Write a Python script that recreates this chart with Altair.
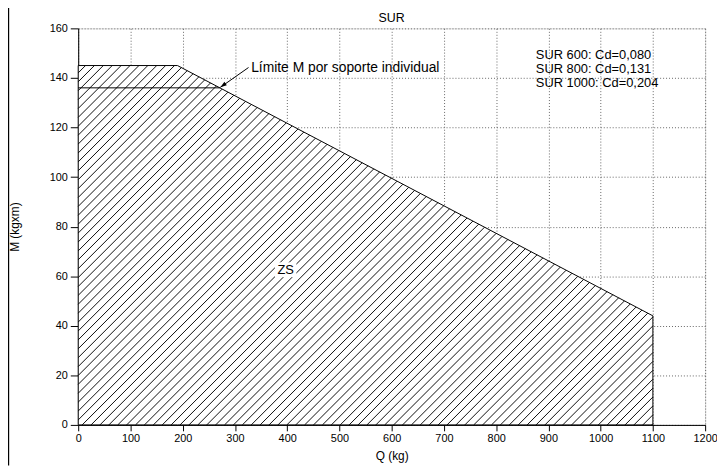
import altair as alt
import pandas as pd

# ---- data ----
outline_q = [0, 190, 1100]          # Q (kg) of the limit curve
outline_m = [145, 145, 44]          # M (kgxm) at those Q
individual_limit_m = 136            # "Límite M por soporte individual"
cd_labels = ["SUR 600: Cd=0,080", "SUR 800: Cd=0,131", "SUR 1000: Cd=0,204"]
cd_label_q = [876, 876, 876]
cd_label_m = [149.2, 143.6, 138.0]
arrow_q = [326, 272]
arrow_m = [144.2, 136.2]
note_text = ["Límite M por soporte individual"]
note_q = [331]
note_m = [144]
zone_text = ["ZS"]
zone_q = [397]
zone_m = [62.6]
chart_title = "SUR"

x_ticks = list(range(0, 1201, 50))
y_ticks = list(range(0, 161, 10))

W, H = 634, 401
X_MAX, Y_MAX = 1200, 160
kx, ky = W / X_MAX, H / Y_MAX
FONT = "Liberation Sans"

# limit polygon (closed at M=0)
poly = [(0, 0)] + list(zip(outline_q, outline_m)) + [(outline_q[-1], 0)]

# intersection of the individual limit with the sloped segment
q1, m1, q2, m2 = outline_q[1], outline_m[1], outline_q[2], outline_m[2]
lim_q_end = q1 + (individual_limit_m - m1) * (q2 - q1) / (m2 - m1)

# hatch segments: 45 deg in screen space, clipped to the polygon
ppoly = [(q * kx, m * ky) for q, m in poly]
hatch = []
step = 9.0
b = -H
while b < W + H:
    xs = []
    n = len(ppoly)
    for i in range(n):
        x1, y1 = ppoly[i]
        x2, y2 = ppoly[(i + 1) % n]
        den = (y2 - y1) - (x2 - x1)
        if abs(den) < 1e-12:
            continue
        t = -(y1 - x1 + b) / den
        if -1e-9 <= t <= 1 + 1e-9:
            xs.append(x1 + t * (x2 - x1))
    if len(xs) >= 2:
        xa, xb = min(xs), max(xs)
        if xb - xa > 0.5:
            hatch.append({"x": xa / kx, "y": (xa - b) / ky,
                          "x2": xb / kx, "y2": (xb - b) / ky})
    b += step
hatch_df = pd.DataFrame(hatch)

area_df = pd.DataFrame({"q": outline_q, "m": outline_m})

xscale = alt.Scale(domain=[0, X_MAX], nice=False, zero=False)
yscale = alt.Scale(domain=[0, Y_MAX], nice=False, zero=False)

x_axis = alt.Axis(
    values=x_ticks, title="Q (kg)",
    labelExpr="datum.value % 100 === 0 ? datum.label : ''",
    tickSize=alt.condition("datum.value % 100 === 0", alt.value(6), alt.value(3)),
    gridOpacity=alt.condition("datum.value % 100 === 0", alt.value(1), alt.value(0)),
    grid=True, gridColor="#666", gridDash=[1, 2], gridWidth=1,
    domainColor="black", tickColor="black", labelColor="black",
    labelFont=FONT, labelFontSize=11, labelPadding=2, format="d",
    titleFont=FONT, titleFontSize=12, titleFontWeight="normal", titleColor="black",
    titleY=26, labelFlush=False,
)
y_axis = alt.Axis(
    values=y_ticks, title="M (kgxm)",
    labelExpr="datum.value % 20 === 0 ? datum.label : ''",
    tickSize=alt.condition("datum.value % 20 === 0", alt.value(8), alt.value(3)),
    gridOpacity=alt.condition("datum.value % 20 === 0", alt.value(1), alt.value(0)),
    grid=True, gridColor="#666", gridDash=[1, 2], gridWidth=1,
    domainColor="black", tickColor="black", labelColor="black",
    labelFont=FONT, labelFontSize=11, labelPadding=3, format="d",
    titleFont=FONT, titleFontSize=12, titleFontWeight="normal", titleColor="black",
    titleX=-57, labelFlush=False,
)

area = alt.Chart(area_df).mark_area(
    fill="white", stroke="black", strokeWidth=1, interpolate="linear"
).encode(
    x=alt.X("q:Q", scale=xscale, axis=x_axis),
    y=alt.Y("m:Q", scale=yscale, axis=y_axis),
    y2=alt.datum(0),
)

hatch_layer = alt.Chart(hatch_df).mark_rule(color="black", strokeWidth=0.95).encode(
    x="x:Q", y="y:Q", x2="x2:Q", y2="y2:Q"
)

limit_line = alt.Chart(pd.DataFrame({"a": [0], "b": [lim_q_end], "m": [individual_limit_m]})).mark_rule(
    color="black", strokeWidth=1
).encode(x="a:Q", x2="b:Q", y="m:Q")

arrow_df = pd.DataFrame({"q": arrow_q, "m": arrow_m, "o": [0, 1]})
arrow_shaft = alt.Chart(arrow_df).mark_line(color="black", strokeWidth=1).encode(
    x="q:Q", y="m:Q", order="o:O"
)
arrow_head = alt.Chart(arrow_df.iloc[[1]]).mark_point(
    shape="M-0.7,2.2L0,0L0.7,2.2Z", filled=True, color="black", size=36, angle=234.5, opacity=1
).encode(x="q:Q", y="m:Q")

note = alt.Chart(pd.DataFrame({"t": note_text, "q": note_q, "m": note_m})).mark_text(
    align="left", baseline="middle", font=FONT, fontSize=14, color="black"
).encode(x="q:Q", y="m:Q", text="t:N")

cd = alt.Chart(pd.DataFrame({"t": cd_labels, "q": cd_label_q, "m": cd_label_m})).mark_text(
    align="left", baseline="middle", font=FONT, fontSize=13, color="black"
).encode(x="q:Q", y="m:Q", text="t:N")

zone_df = pd.DataFrame({"t": zone_text, "q": zone_q, "m": zone_m})
zone_bg = alt.Chart(zone_df).mark_point(
    shape="M-1.45,-1L1.45,-1L1.45,1L-1.45,1Z", filled=True, color="white", size=225, opacity=1
).encode(x="q:Q", y="m:Q")
zone = alt.Chart(zone_df).mark_text(
    align="center", baseline="middle", font=FONT, fontSize=13, color="black"
).encode(x="q:Q", y="m:Q", text="t:N")

title_mark = alt.Chart(pd.DataFrame({"t": [chart_title]})).mark_text(
    align="center", baseline="middle", font=FONT, fontSize=12.5, color="black"
).encode(x=alt.value(W / 2), y=alt.value(-10), text="t:N")

frame = alt.Chart(pd.DataFrame({"k": [0]})).mark_rule(color="black", strokeWidth=1.2).encode(
    x=alt.value(-70.4), y=alt.value(-26), y2=alt.value(442)
)

chart = alt.layer(
    area, hatch_layer, limit_line, arrow_shaft, arrow_head, note, cd, zone_bg, zone,
    title_mark, frame
).properties(
    width=W, height=H,
    autosize=alt.AutoSizeParams(type="none"),
    padding={"left": 71, "top": 18, "right": 12, "bottom": 42},
).configure_view(stroke="black", strokeWidth=1).configure(background="white")

chart.save("out.html", embed_options={"renderer": "svg", "actions": False})
